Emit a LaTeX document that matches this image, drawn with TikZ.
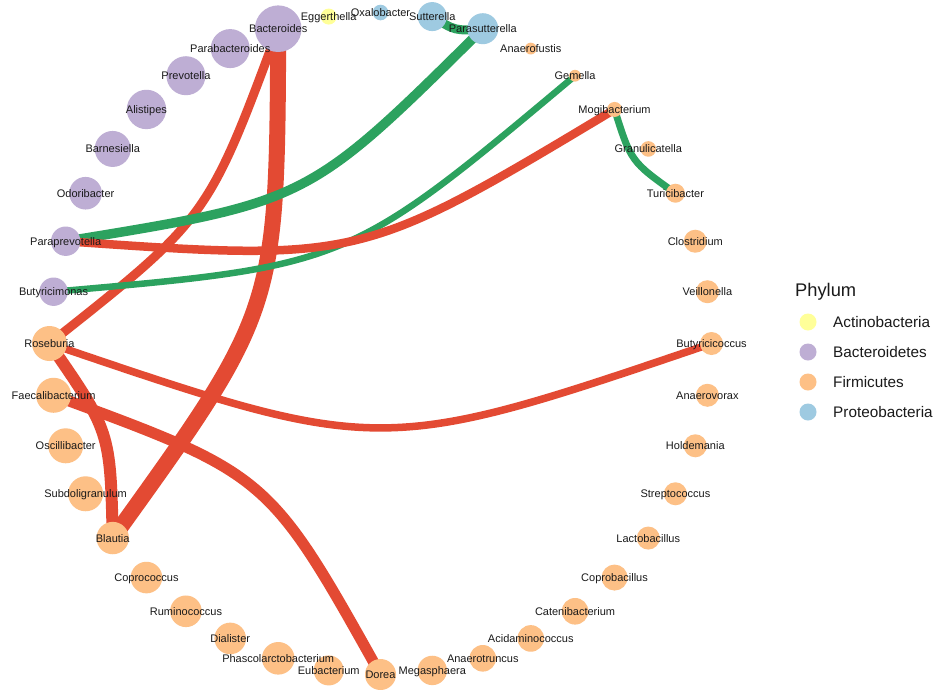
\documentclass[tikz,border=0pt]{standalone}
\usepackage{fontspec}
\setmainfont{Liberation Sans}
\usetikzlibrary{calc}
\pgfdeclarelayer{bg}
\pgfdeclarelayer{fg}
\pgfsetlayers{bg,main,fg}
\definecolor{actc}{HTML}{FFFF99}
\definecolor{bacc}{HTML}{BEAED4}
\definecolor{firc}{HTML}{FDC086}
\definecolor{proc}{HTML}{9ECAE1}
\definecolor{redE}{HTML}{E34A33}
\definecolor{grnE}{HTML}{2CA25F}
\definecolor{txtc}{HTML}{1A1A1A}
% node: name, angle, diameter, colour
\newcommand\taxon[4]{%
  \node[taxondot, fill=#4, minimum size=#3pt] (#1) at ({380.5+331*cos(#2)},{343.5-331*sin(#2)}) {};%
  \begin{pgfonlayer}{fg}\node[taxonlab] (#1L) at (#1.center) {#1};\end{pgfonlayer}}
% edge: style, from, to, bulge factor
\newcommand\arcedge[4]{%
  \draw[#1] (#2.center) .. controls ($(#2.center)!0.5!(#3.center)!#4!90:(#3.center)$) .. (#3.center);}
\begin{document}
\begin{tikzpicture}[x=1pt,y=-1pt,
  taxondot/.style={circle, inner sep=0pt, outer sep=0pt, draw=none},
  taxonlab/.style={inner sep=0pt, font=\fontsize{11}{11}\selectfont, text=txtc, text height=7.9pt, text depth=0pt, anchor=center},
  rededge/.style={draw=redE, line width=#1pt},
  grnedge/.style={draw=grnE, line width=#1pt},
  keydot/.style={circle, inner sep=0pt, minimum size=17pt, draw=none},
  keylab/.style={inner sep=0pt, anchor=west, font=\fontsize{15.3}{15.3}\selectfont, text=txtc, text height=11pt, text depth=0pt},
  keytitle/.style={inner sep=0pt, anchor=west, font=\fontsize{18.3}{18.3}\selectfont, text=txtc, text height=13.1pt, text depth=0pt}]
\useasboundingbox (0,0) rectangle (937,689);

\taxon{Oxalobacter}{90}{15.6}{proc}
\taxon{Sutterella}{81}{29}{proc}
\taxon{Parasutterella}{72}{31}{proc}
\taxon{Anaerofustis}{63}{11.8}{firc}
\taxon{Gemella}{54}{11.8}{firc}
\taxon{Mogibacterium}{45}{15}{firc}
\taxon{Granulicatella}{36}{15.6}{firc}
\taxon{Turicibacter}{27}{19}{firc}
\taxon{Clostridium}{18}{23}{firc}
\taxon{Veillonella}{9}{23}{firc}
\taxon{Butyricicoccus}{0}{23}{firc}
\taxon{Anaerovorax}{-9}{23}{firc}
\taxon{Holdemania}{-18}{23}{firc}
\taxon{Streptococcus}{-27}{23}{firc}
\taxon{Lactobacillus}{-36}{23}{firc}
\taxon{Coprobacillus}{-45}{26}{firc}
\taxon{Catenibacterium}{-54}{26.6}{firc}
\taxon{Acidaminococcus}{-63}{26.6}{firc}
\taxon{Anaerotruncus}{-72}{26.6}{firc}
\taxon{Megasphaera}{-81}{29.4}{firc}
\taxon{Dorea}{-90}{31}{firc}
\taxon{Eubacterium}{-99}{30}{firc}
\taxon{Phascolarctobacterium}{-108}{32.6}{firc}
\taxon{Dialister}{-117}{31.6}{firc}
\taxon{Ruminococcus}{-126}{31.6}{firc}
\taxon{Coprococcus}{-135}{31.6}{firc}
\taxon{Blautia}{-144}{32.4}{firc}
\taxon{Subdoligranulum}{-153}{35}{firc}
\taxon{Oscillibacter}{-162}{35}{firc}
\taxon{Faecalibacterium}{-171}{35}{firc}
\taxon{Roseburia}{180}{35}{firc}
\taxon{Butyricimonas}{171}{28.4}{bacc}
\taxon{Paraprevotella}{162}{29.4}{bacc}
\taxon{Odoribacter}{153}{32.6}{bacc}
\taxon{Barnesiella}{144}{36}{bacc}
\taxon{Alistipes}{135}{39.4}{bacc}
\taxon{Prevotella}{126}{39}{bacc}
\taxon{Parabacteroides}{117}{39}{bacc}
\taxon{Bacteroides}{108}{46.6}{bacc}
\taxon{Eggerthella}{99}{16}{actc}

\begin{pgfonlayer}{bg}
\fill[white] (0,0) rectangle (937,689);
\arcedge{rededge=16}{Bacteroides}{Blautia}{0.32}
\arcedge{rededge=12}{Roseburia}{Blautia}{0.30}
\arcedge{rededge=11}{Faecalibacterium}{Dorea}{0.37}
\arcedge{rededge=7.5}{Butyricicoccus}{Roseburia}{0.34}
\arcedge{rededge=9}{Bacteroides}{Roseburia}{0.28}
\arcedge{grnedge=9.5}{Parasutterella}{Paraprevotella}{0.32}
\arcedge{grnedge=9}{Parasutterella}{Sutterella}{0.333}
\arcedge{grnedge=6.5}{Gemella}{Butyricimonas}{0.315}
\arcedge{grnedge=7}{Turicibacter}{Mogibacterium}{0.335}
\arcedge{rededge=8.5}{Mogibacterium}{Paraprevotella}{0.315}
\end{pgfonlayer}

% legend
\node[keytitle] (legtitle) at (795,289.5) {Phylum};
\node[keydot, fill=actc] (k1) at (808,322) {};
\node[keydot, fill=bacc] (k2) at (808,352) {};
\node[keydot, fill=firc] (k3) at (808,382) {};
\node[keydot, fill=proc] (k4) at (808,412) {};
\node[keylab] (l1) at (833,322) {Actinobacteria};
\node[keylab] (l2) at (833,352) {Bacteroidetes};
\node[keylab] (l3) at (833,382) {Firmicutes};
\node[keylab] (l4) at (833,412) {Proteobacteria};
\end{tikzpicture}
\end{document}
